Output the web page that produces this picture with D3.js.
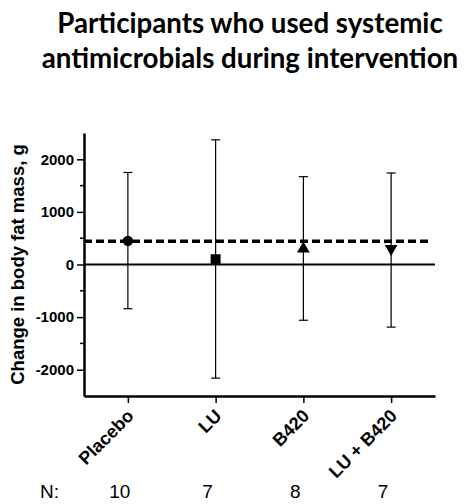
<!DOCTYPE html>
<html>
<head>
<meta charset="utf-8">
<script src="https://cdn.jsdelivr.net/npm/d3@7"></script>
<style>
  body { margin: 0; background: #fff; }
  svg { display: block; }
</style>
</head>
<body>
<div id="chart"></div>
<script>
// data
var groups = ["Placebo", "LU", "B420", "LU + B420"];
var means = [450, 100, 300, 300];
var upper = [1750, 2370, 1670, 1740];
var lower = [-840, -2160, -1060, -1190];
var symbols = ["circle", "square", "triangle", "triangleDown"];
var nValues = [10, 7, 8, 7];
var refLine = 440;
var yTicks = [-2000, -1000, 0, 1000, 2000];
var yMinorTicks = [-1500, -500, 500, 1500];
var titleLines = ["Participants who used systemic", "antimicrobials during intervention"];

var width = 464, height = 504;
var margin = { top: 133, right: 29, bottom: 108, left: 84 };

var svg = d3.select("#chart")
  .append("svg")
  .attr("width", width)
  .attr("height", height);

var x = d3.scalePoint()
  .domain(groups)
  .range([margin.left, width - margin.right])
  .padding(0.5);

var y = d3.scaleLinear()
  .domain([-2500, 2500])
  .range([height - margin.bottom, margin.top]);

// title
svg.append("text")
  .attr("text-anchor", "middle")
  .style("font-family", "Lato, sans-serif")
  .style("font-weight", "bold")
  .style("font-size", "27.7px")
  .selectAll("tspan")
  .data(titleLines)
  .join("tspan")
    .attr("x", 250)
    .attr("y", (d, i) => 33 + i * 35)
    .text(d => d);

// y axis, plain hyphen minus and no thousands separator
svg.append("g")
  .attr("transform", `translate(${margin.left},0)`)
  .call(d3.axisLeft(y).tickValues(yTicks).tickFormat(d => String(d))
    .tickSize(7).tickPadding(3).tickSizeOuter(0))
  .call(g => g.select(".domain").attr("stroke-width", 2.5))
  .call(g => g.selectAll(".tick line").attr("stroke-width", 1.5))
  .call(g => g.selectAll(".tick text")
    .style("font-family", "'Liberation Sans', Arial, sans-serif")
    .style("font-weight", "bold")
    .style("font-size", "15px")
    .attr("fill", "#000"));

svg.append("g")
  .selectAll("line")
  .data(yMinorTicks)
  .join("line")
    .attr("x1", margin.left - 4)
    .attr("x2", margin.left)
    .attr("y1", d => y(d))
    .attr("y2", d => y(d))
    .attr("stroke", "#000")
    .attr("stroke-width", 1.5);

// y label
svg.append("text")
  .attr("transform", `translate(24,${y(0)}) rotate(-90)`)
  .attr("text-anchor", "middle")
  .style("font-family", "'Liberation Sans', Arial, sans-serif")
  .style("font-weight", "bold")
  .style("font-size", "18.5px")
  .text("Change in body fat mass, g");

// x axis
svg.append("g")
  .attr("transform", `translate(0,${height - margin.bottom})`)
  .call(d3.axisBottom(x).tickSize(7).tickSizeOuter(0).tickFormat(""))
  .call(g => g.select(".domain").attr("stroke-width", 2.5))
  .call(g => g.selectAll(".tick line").attr("stroke-width", 1.5));

// x labels, rotated
svg.append("g")
  .selectAll("text")
  .data(groups)
  .join("text")
    .attr("transform", d => `translate(${x(d) + 7},${height - margin.bottom + 21}) rotate(-45)`)
    .attr("text-anchor", "end")
    .style("font-family", "'Liberation Sans', Arial, sans-serif")
    .style("font-weight", "bold")
    .style("font-size", "18px")
    .text(d => d);

// zero line
svg.append("line")
  .attr("x1", margin.left)
  .attr("x2", width - margin.right)
  .attr("y1", y(0))
  .attr("y2", y(0))
  .attr("stroke", "#000")
  .attr("stroke-width", 2);

// dashed reference line
svg.append("line")
  .attr("x1", margin.left)
  .attr("x2", width - margin.right - 6)
  .attr("y1", y(refLine))
  .attr("y2", y(refLine))
  .attr("stroke", "#000")
  .attr("stroke-width", 3.5)
  .attr("stroke-dasharray", "8,4");

// error bars
var bars = svg.append("g")
  .attr("stroke", "#000")
  .attr("stroke-width", 1.2);

groups.forEach(function(g, i) {
  bars.append("line")
    .attr("x1", x(g)).attr("x2", x(g))
    .attr("y1", y(upper[i])).attr("y2", y(lower[i]));
  [upper[i], lower[i]].forEach(function(v) {
    bars.append("line")
      .attr("x1", x(g) - 4.5).attr("x2", x(g) + 4.5)
      .attr("y1", y(v)).attr("y2", y(v));
  });
});

// markers
var symbolTypes = {
  circle: [d3.symbolCircle, 0],
  square: [d3.symbolSquare, 0],
  triangle: [d3.symbolTriangle, 0],
  triangleDown: [d3.symbolTriangle, 180]
};

svg.append("g")
  .selectAll("path")
  .data(groups)
  .join("path")
    .attr("transform", (d, i) => `translate(${x(d)},${y(means[i])}) rotate(${symbolTypes[symbols[i]][1]})`)
    .attr("d", (d, i) => d3.symbol().type(symbolTypes[symbols[i]][0]).size(symbols[i] === "circle" ? 85 : symbols[i] === "square" ? 100 : 70)())
    .attr("fill", "#000");

// N row
svg.append("text")
  .attr("x", 40)
  .attr("y", 498)
  .style("font-family", "'Liberation Sans', Arial, sans-serif")
  .style("font-size", "19px")
  .text("N:");

svg.append("g")
  .selectAll("text")
  .data(nValues)
  .join("text")
    .attr("x", (d, i) => x(groups[i]) - 8)
    .attr("y", 498)
    .attr("text-anchor", "middle")
    .style("font-family", "'Liberation Sans', Arial, sans-serif")
    .style("font-size", "19px")
    .text(d => d);
</script>
</body>
</html>
